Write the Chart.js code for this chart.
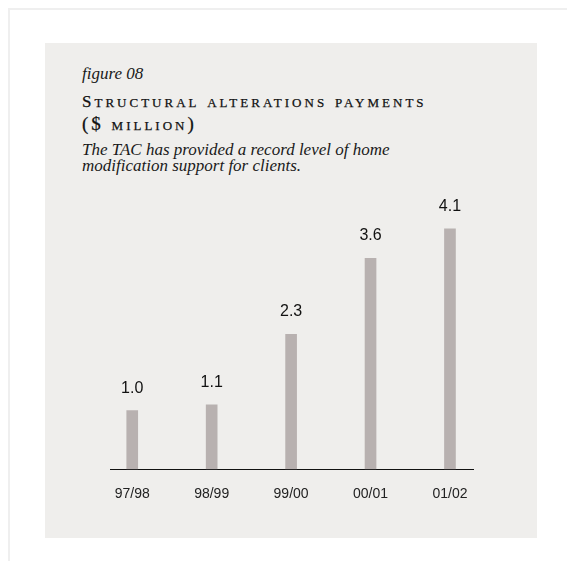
<!DOCTYPE html>
<html lang="en">
<head>
    <meta charset="UTF-8">
    <title>Structural alterations payments</title>
    <script src="https://cdn.jsdelivr.net/npm/chart.js"></script>
    <style>
        body { margin: 0; background: #fff; width: 567px; height: 561px; overflow: hidden; position: relative; }
        .frame { position: absolute; left: 8px; top: 8px; width: 600px; height: 600px;
                 border-left: 2px solid #efefef; border-top: 2px solid #efefef; }
        .panel { position: absolute; left: 45px; top: 43px; width: 492px; height: 495px; background: #efeeec; }
        .txt { position: absolute; left: 37px; color: #1a1a1a; font-family: "Liberation Serif", serif; white-space: nowrap; }
        .fig { top: 21px; font-size: 17px; line-height: 20px; font-style: italic; }
        .title { top: 47px; font-size: 19px; line-height: 22px; font-variant: small-caps; letter-spacing: 3px;
                 color: #111; -webkit-text-stroke: 0.25px #111; }
        .title .cap { font-size: 17px; }
        .sub { top: 99px; font-size: 17px; line-height: 16px; font-style: italic; }
        #wrap { position: absolute; left: 45px; top: 190px; width: 492px; height: 340px; }
    </style>
</head>
<body>
    <div class="frame"></div>
    <div class="panel">
        <div class="txt fig">figure 08</div>
        <div class="txt title"><span class="cap">S</span>tructural alterations payments<br>($ million)</div>
        <div class="txt sub">The TAC has provided a record level of home<br>modification support for clients.</div>
    </div>
    <div id="wrap"><canvas id="chart"></canvas></div>

    <script>
        // chart data
        const categories = ['97/98', '98/99', '99/00', '00/01', '01/02'];
        const payments = [1.0, 1.1, 2.3, 3.6, 4.1];

        // value labels above each bar
        const barLabels = {
            id: 'barLabels',
            afterDatasetsDraw(chart) {
                const ctx = chart.ctx;
                const meta = chart.getDatasetMeta(0);
                ctx.save();
                ctx.font = '16px "Liberation Sans", Arial, sans-serif';
                ctx.fillStyle = '#111';
                ctx.textAlign = 'center';
                ctx.textBaseline = 'alphabetic';
                meta.data.forEach((bar, i) => {
                    ctx.fillText(payments[i].toFixed(1), bar.x, bar.y - 18);
                });
                ctx.restore();
            }
        };

        new Chart(document.getElementById('chart'), {
            type: 'bar',
            data: {
                datasets: [{
                    data: payments.map((v, i) => ({ x: i, y: v })),
                    backgroundColor: '#b8b1b0',
                    barThickness: 11
                }]
            },
            options: {
                responsive: true,
                maintainAspectRatio: false,
                animation: false,
                events: [],
                layout: { padding: { left: 65, right: 64, top: 2, bottom: 10 } },
                plugins: { legend: { display: false }, tooltip: { enabled: false } },
                scales: {
                    x: {
                        type: 'linear',
                        offset: false,
                        min: -0.28,
                        max: 4.29,
                        grid: { display: false, drawTicks: false, offset: false },
                        border: { display: true, color: '#111', width: 1 },
                        afterBuildTicks: scale => {
                            scale.ticks = categories.map((c, i) => ({ value: i }));
                        },
                        ticks: {
                            padding: 17,
                            maxRotation: 0,
                            autoSkip: false,
                            color: '#222',
                            font: { family: '"Liberation Sans", Arial, sans-serif', size: 14 },
                            callback: v => categories[v] ?? ''
                        }
                    },
                    y: { display: false, min: 0, max: 4.73 }
                }
            },
            plugins: [barLabels]
        });
    </script>
</body>
</html>
